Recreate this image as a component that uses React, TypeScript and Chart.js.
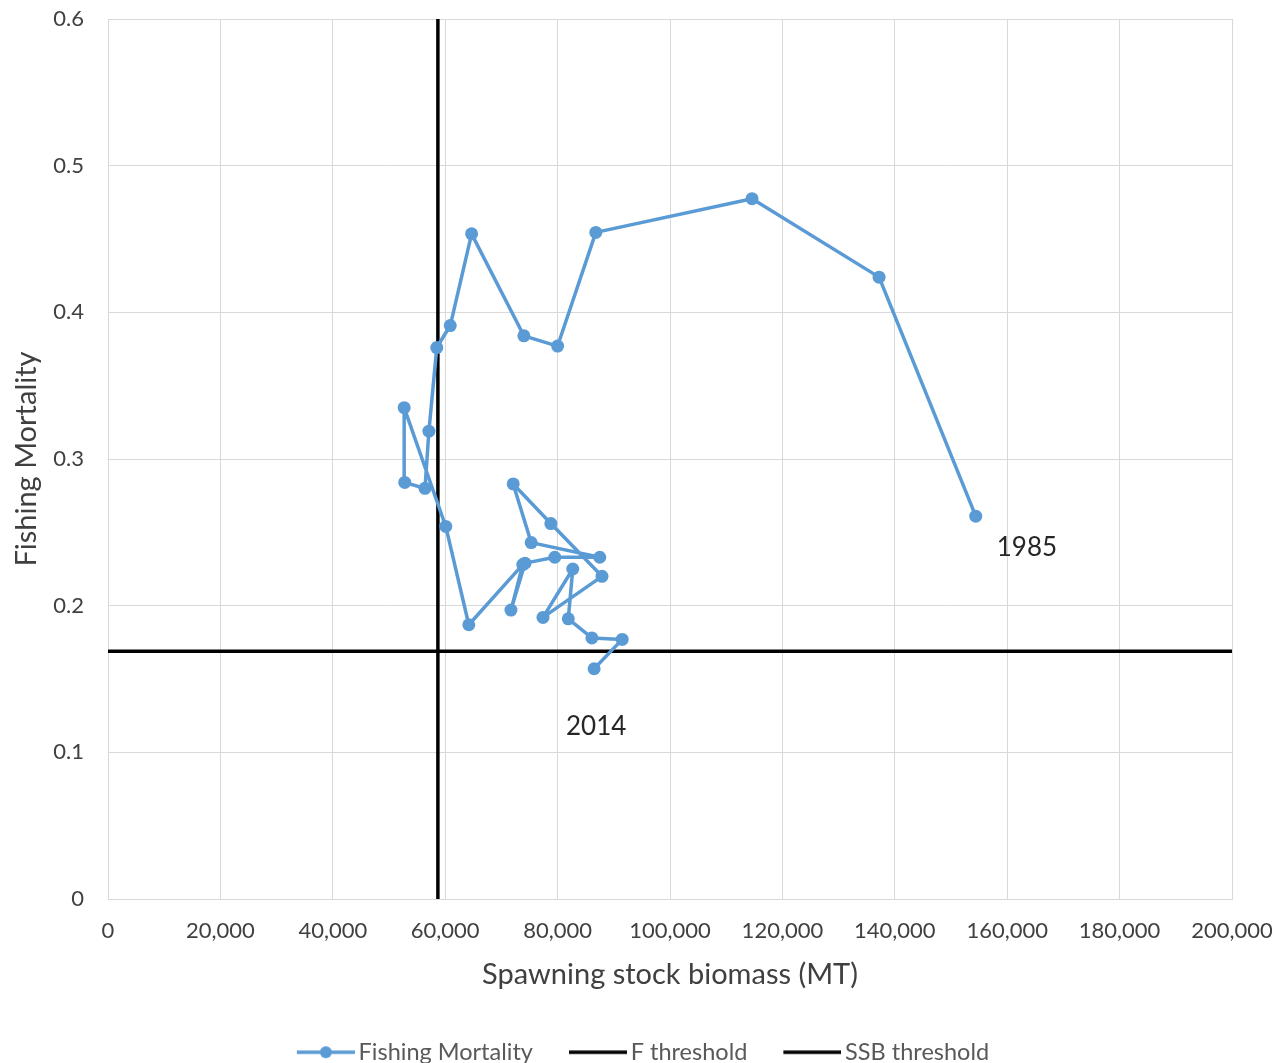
import React, { useEffect, useRef } from "react";
import { Chart, registerables } from "chart.js";

Chart.register(...registerables);

// ---- data ----
const years = [
  "1985", "1986", "1987", "1988", "1989", "1990", "1991", "1992", "1993", "1994",
  "1995", "1996", "1997", "1998", "1999", "2000", "2001", "2002", "2003", "2004",
  "2005", "2006", "2007", "2008", "2009", "2010", "2011", "2012", "2013", "2014",
];
const ssb = [
  154400, 137200, 114600, 86800, 80000, 74000, 64700, 60900, 58500, 57100,
  56400, 52800, 52700, 60100, 64200, 73800, 71700, 74200, 79500, 87500,
  75300, 72100, 78800, 87900, 77400, 82700, 81900, 86100, 91500, 86500,
];
const fishingMortality = [
  0.261, 0.424, 0.4775, 0.4545, 0.377, 0.384, 0.4535, 0.391, 0.376, 0.319,
  0.28, 0.284, 0.335, 0.254, 0.187, 0.228, 0.197, 0.229, 0.233, 0.233,
  0.243, 0.283, 0.256, 0.22, 0.192, 0.225, 0.191, 0.178, 0.177, 0.157,
];
const fThreshold = 0.169;
const ssbThreshold = 58700;
const xMin = 0;
const xMax = 200000;
const xStep = 20000;
const yMin = 0;
const yMax = 0.6;
const yStep = 0.1;
const seriesNames = ["Fishing Mortality", "F threshold", "SSB threshold"];
const xTitle = "Spawning stock biomass (MT)";
const yTitle = "Fishing Mortality";

const FONT = "Lato, 'Open Sans', sans-serif";
const BLUE = "#5B9BD5";
const TEXT = "#404040";
const LEGEND_TEXT = "#595959";
const GRID = "#d9d9d9";

// legend icon: a 58px line sample that sits close to the label text
function makeIcon(color: string, withDot: boolean) {
  const c = document.createElement("canvas");
  c.width = 66;
  c.height = 16;
  const g = c.getContext("2d")!;
  g.strokeStyle = color;
  g.lineWidth = 3.5;
  g.beginPath();
  g.moveTo(8, 8);
  g.lineTo(66, 8);
  g.stroke();
  if (withDot) {
    g.fillStyle = color;
    g.beginPath();
    g.arc(37, 8, 6, 0, Math.PI * 2);
    g.fill();
  }
  return c;
}

const yearLabelPlugin = {
  id: "yearLabels",
  afterDatasetsDraw(chart: any) {
    const meta = chart.getDatasetMeta(0);
    const pts = meta.data;
    if (!pts || !pts.length) return;
    const first = pts[0];
    const last = pts[pts.length - 1];
    const ctx = chart.ctx;
    ctx.save();
    ctx.font = `26px ${FONT}`;
    ctx.fillStyle = "#262626";
    ctx.textBaseline = "middle";
    ctx.textAlign = "left";
    ctx.fillText(years[0], first.x + 21, first.y + 31);
    ctx.textAlign = "center";
    ctx.fillText(years[years.length - 1], last.x + 2, last.y + 58);
    ctx.restore();
  },
};

export default function App() {
  const ref = useRef<HTMLCanvasElement | null>(null);

  useEffect(() => {
    if (!ref.current) return;
    const icons = [makeIcon(BLUE, true), makeIcon("#000000", false), makeIcon("#000000", false)];
    const mainData = ssb.map((x, i) => ({ x, y: fishingMortality[i] }));
    const chart = new Chart(ref.current, {
      type: "scatter",
      data: {
        datasets: [
          {
            label: seriesNames[0],
            data: mainData,
            showLine: true,
            borderColor: BLUE,
            backgroundColor: BLUE,
            borderWidth: 3.5,
            borderJoinStyle: "round",
            pointRadius: 6.5,
            pointBorderWidth: 0,
            pointBackgroundColor: BLUE,
            tension: 0,
          },
          {
            label: seriesNames[1],
            data: [
              { x: xMin, y: fThreshold },
              { x: xMax, y: fThreshold },
            ],
            showLine: true,
            borderColor: "#000000",
            backgroundColor: "#000000",
            borderWidth: 3.5,
            pointRadius: 0,
          },
          {
            label: seriesNames[2],
            data: [
              { x: ssbThreshold, y: yMin },
              { x: ssbThreshold, y: yMax },
            ],
            showLine: true,
            borderColor: "#000000",
            backgroundColor: "#000000",
            borderWidth: 3.5,
            pointRadius: 0,
          },
        ],
      },
      options: {
        animation: false,
        responsive: true,
        maintainAspectRatio: false,
        events: [],
        layout: { padding: { top: 19, right: 0, left: 7, bottom: 0 } },
        scales: {
          x: {
            type: "linear",
            min: xMin,
            max: xMax,
            afterFit: (s: any) => {
              s.height = 105.5;
              s.paddingLeft = 0;
              s.paddingRight = 47;
            },
            ticks: {
              stepSize: xStep,
              autoSkip: false,
              maxRotation: 0,
              padding: 19,
              color: TEXT,
              font: { family: FONT, size: 22 },
              callback: (v: any) => Number(v).toLocaleString("en-US"),
            },
            grid: { color: GRID, lineWidth: 1, drawTicks: false },
            border: { color: GRID, width: 1 },
            title: {
              display: true,
              text: xTitle,
              color: TEXT,
              font: { family: FONT, size: 29 },
              padding: { top: 0, bottom: 12 },
            },
          },
          y: {
            type: "linear",
            min: yMin,
            max: yMax,
            afterFit: (s: any) => {
              s.width = 101;
              s.paddingTop = 0;
              s.paddingBottom = 0;
            },
            ticks: {
              stepSize: yStep,
              padding: 24,
              color: TEXT,
              font: { family: FONT, size: 22 },
              callback: (v: any) => String(Math.round(Number(v) * 10) / 10),
            },
            grid: { color: GRID, lineWidth: 1, drawTicks: false },
            border: { color: GRID, width: 1 },
            title: {
              display: true,
              text: yTitle,
              color: TEXT,
              font: { family: FONT, size: 29 },
              padding: { top: 2.5, bottom: 0 },
            },
          },
        },
        plugins: {
          tooltip: { enabled: false },
          legend: {
            display: true,
            position: "bottom",
            labels: {
              usePointStyle: true,
              pointStyleWidth: 50,
              boxHeight: 14,
              padding: 36,
              color: LEGEND_TEXT,
              font: { family: FONT, size: 23.5 },
              generateLabels: (ch: any) => {
                const items = (Chart.defaults.plugins.legend.labels as any).generateLabels(ch);
                return items.map((it: any, i: number) => ({ ...it, pointStyle: icons[i] }));
              },
            },
          },
        },
      },
      plugins: [yearLabelPlugin],
    } as any);
    return () => chart.destroy();
  }, []);

  return (
    <div
      style={{
        position: "fixed",
        left: 0,
        top: 0,
        width: 1279,
        height: 1063,
        overflow: "hidden",
        background: "#ffffff",
      }}
    >
      <div style={{ position: "relative", width: 1279, height: 1074 }}>
        <canvas ref={ref} />
      </div>
    </div>
  );
}
